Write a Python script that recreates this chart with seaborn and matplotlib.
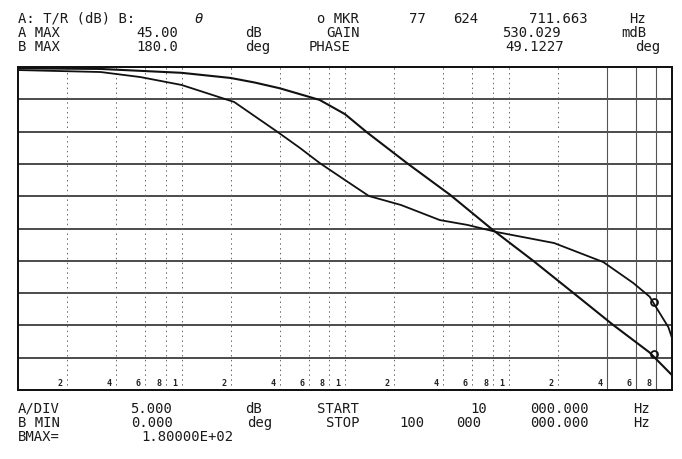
import matplotlib
matplotlib.use("Agg")
import matplotlib.pyplot as plt
import seaborn as sns
import numpy as np

# trace A: gain (dB)
gain_freq_hz = [1.0e4, 3.2e4, 1.0e5, 2.0e5, 2.8e5, 4.0e5, 7.0e5, 1.0e6, 1.36e6,
                2.4e6, 4.4e6, 8.0e6, 1.4e7, 2.5e7, 4.35e7, 7.3e7, 1.0e8]
gain_db = [44.8, 44.7, 44.1, 43.3, 42.6, 41.7, 39.9, 37.7, 34.9,
           30.1, 25.2, 19.8, 15.1, 10.0, 5.1, 0.8, -2.7]

# trace B: phase (deg)
phase_freq_hz = [1.0e4, 3.2e4, 5.6e4, 1.0e5, 2.1e5, 3.8e5, 5.3e5, 7.0e5, 1.0e6,
                 1.4e6, 2.2e6, 3.8e6, 5.6e6, 8.5e6, 1.9e7, 3.8e7, 5.8e7, 7.3e7, 9.5e7, 1.0e8]
phase_deg = [178.3, 177.2, 174.4, 170.0, 160.5, 144.3, 134.9, 126.5, 117.0,
             108.1, 103.1, 94.7, 92.0, 88.0, 81.9, 71.3, 59.6, 52.0, 35.0, 29.0]

# marker readout
marker_freq_hz = 77624711.663
marker_gain_db = 0.530029
marker_phase_deg = 49.1227

tick_digits = ["2", "4", "6", "8", "1"]
tick_mults = [2, 4, 6, 8, 10]
decades = [1e4, 1e5, 1e6, 1e7]

sns.set_theme(style="white")
plt.rcParams['font.family'] = ['DejaVu Sans Mono', 'DejaVu Sans']

W, H = 682, 459
fig = plt.figure(figsize=(W / 100, H / 100), dpi=100)
ax = fig.add_axes([18 / W, 1 - 390 / H, 654 / W, 323 / H])
ax2 = ax.twinx()

ax.set_xscale('log')
ax.set_xlim(1e4, 1e8)
ax.set_ylim(-5, 45)
ax2.set_ylim(0, 180)

# horizontal graticule
for v in np.arange(0, 45, 5):
    ax.axhline(v, color='#1a1a1a', lw=1.1, zorder=1)

# vertical graticule (dotted), a few solid ones at the right end
for d in decades:
    for m in tick_mults:
        f = d * m
        if f >= 1e8:
            continue
        if f in (4e7, 6e7, 8e7):
            ax.axvline(f, color='#555555', lw=0.8, zorder=1)
        else:
            ax.axvline(f, color='#666666', lw=0.7, ls=(0, (1.5, 3.5)), zorder=1)

# small frequency digits along the bottom
for d in decades:
    for m, lab in zip(tick_mults, tick_digits):
        f = d * m
        if f >= 1e8:
            continue
        ax.annotate(lab, (f, -5), xytext=(-5, 1.5), textcoords='offset points',
                    ha='center', va='bottom', fontsize=6, color='#222222',
                    fontweight='bold')

sns.lineplot(x=gain_freq_hz, y=gain_db, ax=ax, color='#111111', lw=1.5,
             estimator=None, sort=False, zorder=3)
sns.lineplot(x=phase_freq_hz, y=phase_deg, ax=ax2, color='#111111', lw=1.3,
             estimator=None, sort=False, zorder=3)

ax.plot([marker_freq_hz], [marker_gain_db], 'o', ms=5, mfc='none', mec='#111111', mew=1.3, zorder=4)
ax2.plot([marker_freq_hz], [marker_phase_deg], 'o', ms=5, mfc='none', mec='#111111', mew=1.3, zorder=4)

for a in (ax, ax2):
    a.set_xticks([])
    a.set_yticks([])
    a.set_xticks([], minor=True)
    a.set_yticks([], minor=True)
    a.set_xlabel('')
    a.set_ylabel('')
    for s in a.spines.values():
        s.set_color('#111111')
        s.set_linewidth(1.3)


def screen_row(y, items):
    # first item of a row hugs the left edge, the rest are centred where the screen has them
    for i, (x, s) in enumerate(items):
        style = 'italic' if s == 'θ' else 'normal'
        fig.text(x / W, 1 - y / H, s, ha='left' if i == 0 else 'center', va='baseline',
                 fontsize=10, color='#1a1a1a', style=style)


screen_row(23, [(18, 'A: T/R (dB) B:'), (199, 'θ'), (338, 'o MKR'), (417, '77'),
                (466, '624'), (558, '711.663'), (637, 'Hz')])
screen_row(37, [(18, 'A MAX'), (157, '45.00'), (253, 'dB'), (343, 'GAIN'),
                (531, '530.029'), (634, 'mdB')])
screen_row(51, [(18, 'B MAX'), (157, '180.0'), (258, 'deg'), (330, 'PHASE'),
                (535, '49.1227'), (648, 'deg')])

screen_row(413, [(18, 'A/DIV'), (151, '5.000'), (253, 'dB'), (338, 'START'),
                 (479, '10'), (559, '000.000'), (641, 'Hz')])
screen_row(427, [(18, 'B MIN'), (152, '0.000'), (260, 'deg'), (343, 'STOP'),
                 (412, '100'), (469, '000'), (559, '000.000'), (641, 'Hz')])
screen_row(441, [(18, 'BMAX='), (187, '1.80000E+02')])

fig.savefig('out.png', dpi=100)
